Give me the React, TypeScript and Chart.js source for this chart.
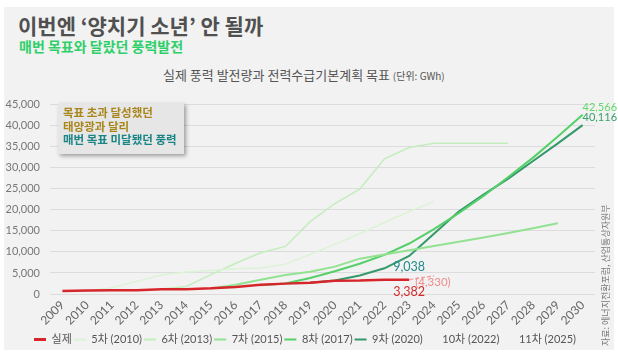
import React, { useEffect, useRef } from "react";
import { Chart, registerables } from "chart.js";
Chart.register(...registerables);

const years = ["2009","2010","2011","2012","2013","2014","2015","2016","2017","2018","2019","2020","2021","2022","2023","2024","2025","2026","2027","2028","2029","2030"];
const yMin = 0;
const yMax = 45000;
const yStep = 5000;

const actual = [685, 817, 863, 913, 1148, 1146, 1342, 1683, 2169, 2465, 2679, 3150, 3180, 3371, 3382, 4330, null, null, null, null, null, null];
const plan5 = [null, 700, 1500, 3000, 4500, 5200, 5600, 6000, 6200, 7100, 9400, 11800, 14300, 17000, 19600, 22000, null, null, null, null, null, null];
const plan6 = [null, null, null, null, 1200, 1800, 4600, 7300, 9800, 11300, 17200, 21500, 24900, 32100, 34800, 35800, 35800, 35800, 35800, null, null, null];
const plan7 = [null, null, null, null, null, null, 1300, 2200, 3400, 4500, 5300, 6500, 8400, 9400, 10400, 11400, 12400, 13400, 14500, 15600, 16800, null];
const plan8 = [null, null, null, null, null, null, null, null, 2100, 2500, 3800, 5400, 7200, 9300, 12000, 15400, 19200, 23300, 27800, 32400, 37400, 42566];
const plan9 = [null, null, null, null, null, null, null, null, null, null, 2700, 3200, 4400, 6100, 9038, 14300, 19600, 23600, 27400, 31600, 35800, 40116];
const emptySeries = years.map(() => null);

const seriesLabels = ["실제", "5차 (2010)", "6차 (2013)", "7차 (2015)", "8차 (2017)", "9차 (2020)", "10차 (2022)", "11차 (2025)"];

const FONT = "Lato, 'Noto Sans CJK KR', sans-serif";
const KFONT = "'Noto Sans CJK KR', sans-serif";

const fmt = (v: number) => v.toLocaleString("en-US");

const valueLabels = {
  id: "valueLabels",
  afterLayout(chart: any) {
    if (chart.legend) chart.legend.left = 15;
  },
  afterDatasetsDraw(chart: any) {
    const { ctx, scales } = chart;
    const x = scales.x;
    const y = scales.y;
    const put = (text: string, idx: number, val: number, dx: number, dy: number, color: string, size: number, align: CanvasTextAlign) => {
      ctx.save();
      ctx.font = `${size}px ${FONT}`;
      ctx.fillStyle = color;
      ctx.textAlign = align;
      ctx.textBaseline = "middle";
      ctx.fillText(text, x.getPixelForValue(idx) + dx, y.getPixelForValue(val) + dy);
      ctx.restore();
    };
    const last = years.length - 1;
    put(fmt(plan8[last] as number), last, plan8[last] as number, 0, -7, "#62d86c", 11, "left");
    put(fmt(plan9[last] as number), last, plan9[last] as number, 0, -8, "#35a06c", 11, "left");
    put(fmt(plan9[14] as number), 14, plan9[14] as number, 0, 11, "#1f8a8a", 12.5, "center");
    put(fmt(actual[14] as number), 14, actual[14] as number, 0, 12, "#d42a2a", 12.5, "center");
    put("(" + fmt(actual[15] as number) + ")", 15, actual[15] as number, -1, 7, "#f08a8a", 11.5, "center");
  },
};

export default function App() {
  const ref = useRef<HTMLCanvasElement | null>(null);
  useEffect(() => {
    if (!ref.current) return;
    const mk = (label: string, data: any[], color: string, width: number, extra: any = {}) => ({
      label,
      data,
      borderColor: color,
      backgroundColor: color,
      borderWidth: width,
      pointRadius: 0,
      tension: 0,
      spanGaps: false,
      ...extra,
    });
    const chart = new Chart(ref.current, {
      type: "line",
      data: {
        labels: years,
        datasets: [
          mk(seriesLabels[0], actual, "#d7262b", 2.5, {
            segment: {
              borderColor: (c: any) => (c.p1DataIndex === 15 ? "#f4a3a3" : undefined),
              borderDash: (c: any) => (c.p1DataIndex === 15 ? [4, 2] : undefined),
              borderWidth: (c: any) => (c.p1DataIndex === 15 ? 1.5 : undefined),
            },
          }),
          mk(seriesLabels[1], plan5, "#dcf3d6", 1.5),
          mk(seriesLabels[2], plan6, "#c4edbd", 1.5),
          mk(seriesLabels[3], plan7, "#92e292", 2),
          mk(seriesLabels[4], plan8, "#55d068", 2),
          mk(seriesLabels[5], plan9, "#33996a", 2),
          mk(seriesLabels[6], emptySeries, "rgba(0,0,0,0)", 1),
          mk(seriesLabels[7], emptySeries, "rgba(0,0,0,0)", 1),
        ],
      },
      options: {
        animation: false,
        responsive: false,
        devicePixelRatio: 1,
        layout: { padding: { left: 0, right: 23, top: 7, bottom: 0 } },
        plugins: {
          tooltip: { enabled: false },
          legend: {
            position: "bottom",
            labels: {
              usePointStyle: true,
              pointStyleWidth: 12,
              padding: 2,
              color: "#555",
              font: { size: 11, family: FONT },
              generateLabels: (ch: any) =>
                ch.data.datasets.map((ds: any, i: number) => ({
                  text: ds.label,
                  fillStyle: ds.borderColor,
                  strokeStyle: ds.borderColor,
                  lineWidth: i === 0 ? 3 : 2,
                  pointStyle: "line",
                  hidden: false,
                  datasetIndex: i,
                  fontColor: "#555",
                })),
            },
          },
        },
        scales: {
          x: {
            offset: true,
            grid: { display: false, drawTicks: false },
            border: { display: false },
            ticks: {
              autoSkip: false,
              minRotation: 45,
              maxRotation: 45,
              padding: 4,
              color: "#666",
              font: { size: 12, family: FONT },
            },
            afterFit: (s: any) => {
              s.height = 38;
            },
          },
          y: {
            min: yMin,
            max: yMax,
            ticks: {
              stepSize: yStep,
              padding: 10,
              color: "#777",
              font: { size: 11, family: FONT },
              callback: (v: any) => fmt(Number(v)),
            },
            grid: { color: "#dcdcdc", drawTicks: false, lineWidth: 1 },
            border: { display: false },
            afterFit: (s: any) => {
              s.width = 50;
            },
          },
        },
      },
      plugins: [valueLabels],
    });
    return () => chart.destroy();
  }, []);

  return (
    <div style={{ position: "absolute", left: 0, top: 0, width: 618, height: 358, fontFamily: KFONT }}>
      <div style={{ position: "absolute", left: 4, top: 7, width: 610, height: 343, background: "#f2f2f2" }} />
      <div style={{ position: "absolute", left: 18, top: 14, fontSize: 21, lineHeight: "22px", fontWeight: 700, color: "#505050", whiteSpace: "nowrap" }}>
        이번엔 ‘양치기 소년’ 안 될까
      </div>
      <div style={{ position: "absolute", left: 19, top: 38, fontSize: 14, lineHeight: "16px", fontWeight: 700, color: "#2fcf6a", whiteSpace: "nowrap" }}>
        매번 목표와 달랐던 풍력발전
      </div>
      <div style={{ position: "absolute", left: 163, top: 67, fontSize: 13, lineHeight: "15px", color: "#555", whiteSpace: "nowrap" }}>
        실제 풍력 발전량과 전력수급기본계획 목표 <span style={{ fontSize: 10 }}>(단위: GWh)</span>
      </div>
      <canvas ref={ref} width={618} height={267} style={{ position: "absolute", left: 0, top: 88, width: 618, height: 267 }} />
      <div style={{ position: "absolute", left: 58, top: 103, width: 126, height: 51, background: "#e6e6e6", boxShadow: "2px 2px 4px rgba(0,0,0,0.35)", boxSizing: "border-box", padding: "3px 0 0 5px", fontSize: 11.5, lineHeight: "13.5px", fontWeight: 700, whiteSpace: "nowrap" }}>
        <div style={{ color: "#a8861a" }}>목표 초과 달성했던</div>
        <div style={{ color: "#a8861a" }}>태양광과 달리</div>
        <div style={{ color: "#1a8585" }}>매번 목표 미달됐던 풍력</div>
      </div>
      <div style={{ position: "absolute", left: 601, top: 346, transform: "rotate(-90deg)", transformOrigin: "left top", fontSize: 9, lineHeight: "9px", color: "#777", whiteSpace: "nowrap" }}>
        자료: 에너지전환포럼, 산업통상자원부
      </div>
    </div>
  );
}
